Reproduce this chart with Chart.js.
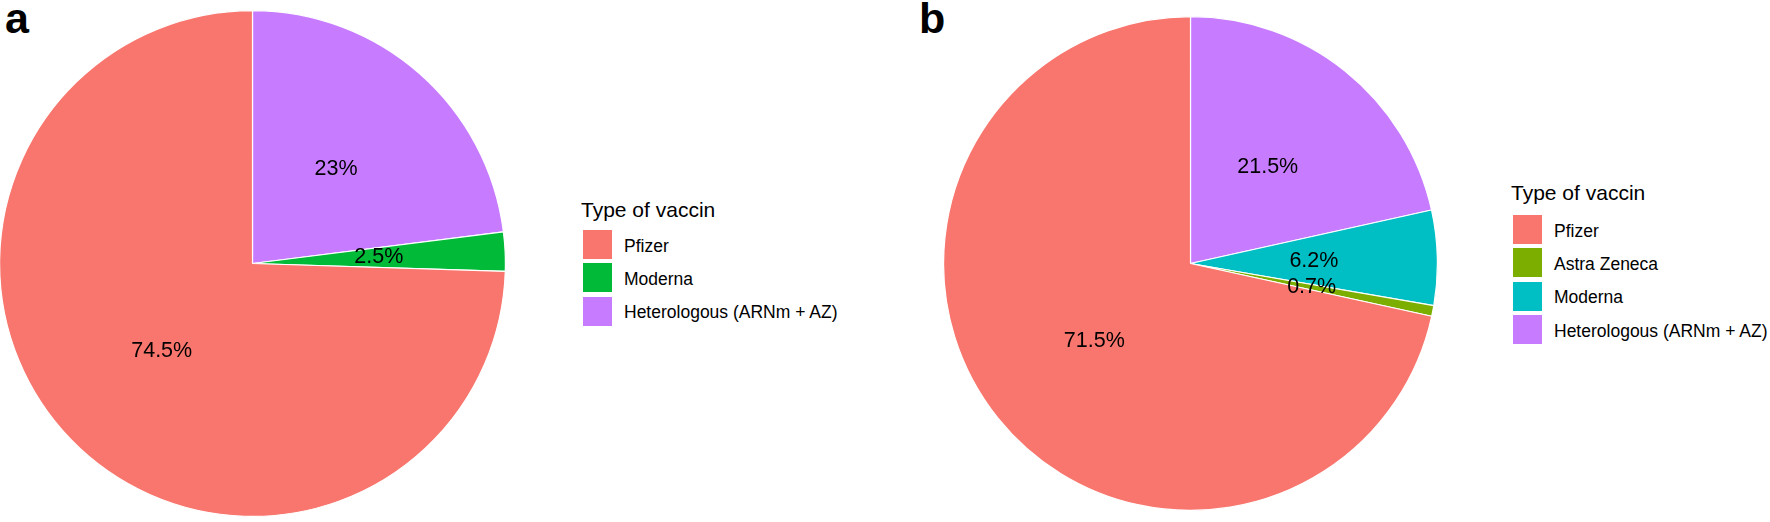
<!DOCTYPE html>
<html>
<head>
<meta charset="utf-8">
<title>Type of vaccin</title>
<script src="https://cdn.jsdelivr.net/npm/chart.js"></script>
<style>
  html, body { margin: 0; padding: 0; background: #fff; }
  body {
    width: 1770px; height: 522px; position: relative; overflow: hidden;
    font-family: "Liberation Sans", Arial, sans-serif; color: #000;
  }
  .panel-tag { position: absolute; font-weight: bold; font-size: 43px; line-height: 43px; }
  canvas { position: absolute; }
  .legend-title { position: absolute; font-size: 21px; line-height: 21px; white-space: nowrap; }
  .legend-key { position: absolute; width: 29px; height: 29px; }
  .legend-label { position: absolute; font-size: 17.5px; line-height: 17.5px; white-space: nowrap; }
</style>
</head>
<body>
<div class="panel-tag" style="left:5px; top:-3px;">a</div>
<div class="panel-tag" style="left:919px; top:-3px;">b</div>
<canvas id="pieA" width="507" height="507" style="left:-1px; top:10px;"></canvas>
<canvas id="pieB" width="495" height="495" style="left:943px; top:16px;"></canvas>
<div id="legendA"></div>
<div id="legendB"></div>

<script>
// panel a
const vaccinsA = ["Pfizer", "Moderna", "Heterologous (ARNm + AZ)"];
const percentA = [74.5, 2.5, 23];
const colorsA = ["#F8766D", "#00BA38", "#C77CFF"];

// panel b
const vaccinsB = ["Pfizer", "Astra Zeneca", "Moderna", "Heterologous (ARNm + AZ)"];
const percentB = [71.5, 0.7, 6.2, 21.5];
const colorsB = ["#F8766D", "#7CAE00", "#00BFC4", "#C77CFF"];

const legendTitle = "Type of vaccin";

document.addEventListener("DOMContentLoaded", function () {
  // percentage text in the middle of each slice
  const sliceLabels = {
    id: "sliceLabels",
    afterDatasetsDraw(chart) {
      const ctx = chart.ctx;
      const values = chart.data.datasets[0].data;
      ctx.save();
      ctx.fillStyle = "#000";
      ctx.font = '21.5px "Liberation Sans", Arial, sans-serif';
      ctx.textAlign = "center";
      ctx.textBaseline = "middle";
      chart.getDatasetMeta(0).data.forEach((arc, i) => {
        const p = arc.tooltipPosition(true);
        ctx.fillText(values[i] + "%", p.x, p.y);
      });
      ctx.restore();
    },
  };

  function drawPie(canvasId, labels, values, colors) {
    // ggplot stacks the levels the other way round, so reverse for clockwise order
    return new Chart(document.getElementById(canvasId).getContext("2d"), {
      type: "pie",
      data: {
        labels: labels.slice().reverse(),
        datasets: [
          {
            data: values.slice().reverse(),
            backgroundColor: colors.slice().reverse(),
            borderColor: "#ffffff",
            borderWidth: 1.2,
          },
        ],
      },
      options: {
        responsive: false,
        animation: false,
        events: [],
        layout: { padding: 0 },
        plugins: {
          legend: { display: false },
          tooltip: { enabled: false },
        },
      },
      plugins: [sliceLabels],
    });
  }

  function buildLegend(boxId, labels, colors, x, titleBase, keyTop) {
    const box = document.getElementById(boxId);
    const pitch = 33.4;
    let html = `<div class="legend-title" style="left:${x - 1}px; top:${titleBase - 0.8465 * 21}px;">${legendTitle}</div>`;
    labels.forEach((name, i) => {
      const top = keyTop + i * pitch;
      html += `<div class="legend-key" style="left:${x + 1}px; top:${top}px; background:${colors[i]};"></div>`;
      html += `<div class="legend-label" style="left:${x + 42}px; top:${top + 22.5 - 0.8465 * 17.5}px;">${name}</div>`;
    });
    box.innerHTML = html;
  }

  drawPie("pieA", vaccinsA, percentA, colorsA);
  drawPie("pieB", vaccinsB, percentB, colorsB);

  buildLegend("legendA", vaccinsA, colorsA, 582, 216.7, 230);
  buildLegend("legendB", vaccinsB, colorsB, 1512, 200, 215);
});
</script>
</body>
</html>
